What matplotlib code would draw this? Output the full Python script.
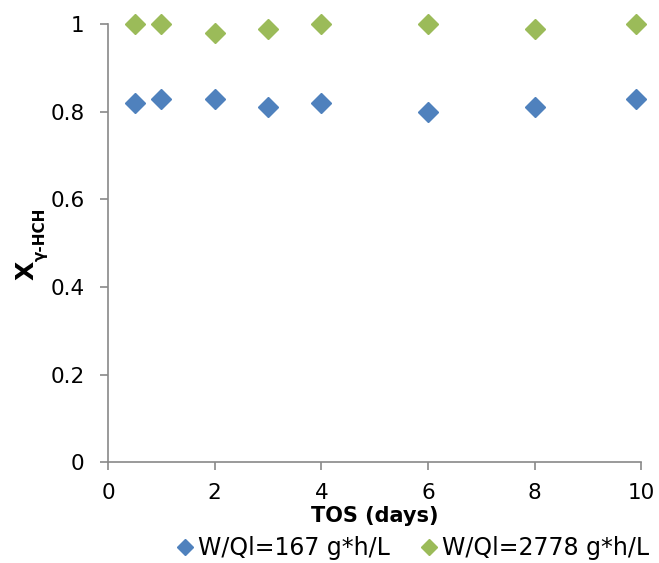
import matplotlib.pyplot as plt

plt.rcParams['font.family'] = ['DejaVu Sans']

tos = [0.5, 1, 2, 3, 4, 6, 8, 9.9]
x_low = [0.82, 0.83, 0.83, 0.81, 0.82, 0.80, 0.81, 0.83]
x_high = [1.00, 1.00, 0.98, 0.99, 1.00, 1.00, 0.99, 1.00]
labels = ['W/Ql=167 g*h/L', 'W/Ql=2778 g*h/L']

fig = plt.figure(figsize=(6.59, 5.63), dpi=100)
ax = fig.add_axes([0.164, 0.179, 0.809, 0.778])

ax.plot(tos, x_low, 'D', color='#4F81BD', markersize=10, label=labels[0], clip_on=False)
ax.plot(tos, x_high, 'D', color='#9BBB59', markersize=10, label=labels[1], clip_on=False)

ax.set_xlim(0, 10)
ax.set_ylim(0, 1)
ax.set_xticks(range(0, 11, 2))
ax.set_yticks([0, 0.2, 0.4, 0.6, 0.8, 1])
ax.set_yticklabels(['0', '0.2', '0.4', '0.6', '0.8', '1'])

for s in ['top', 'right']:
    ax.spines[s].set_visible(False)
for s in ['left', 'bottom']:
    ax.spines[s].set_color('#898989')
    ax.spines[s].set_linewidth(1.2)
ax.tick_params(direction='out', length=6, width=1.2, color='#898989',
               labelsize=15.5)
ax.tick_params(axis='x', pad=9)
ax.tick_params(axis='y', pad=11)

ax.set_xlabel('TOS (days)', fontsize=15, fontweight='bold', labelpad=2)

# y label: X with subscript gamma-HCH, drawn as two rotated texts
fig.text(27 / 659, 1 - 270 / 563, 'X', rotation=90, fontsize=18,
         fontweight='bold', ha='center', va='center')
fig.text(40 / 659, 1 - 234 / 563, 'γ-HCH', rotation=90, fontsize=11,
         fontweight='bold', ha='center', va='center')

fig.legend(loc='center', bbox_to_anchor=(0.625, 0.027), ncol=2, frameon=False,
           fontsize=17, handletextpad=0.1, columnspacing=1.2, markerscale=0.8,
           handlelength=0.9)

fig.savefig('out.png', dpi=100)
